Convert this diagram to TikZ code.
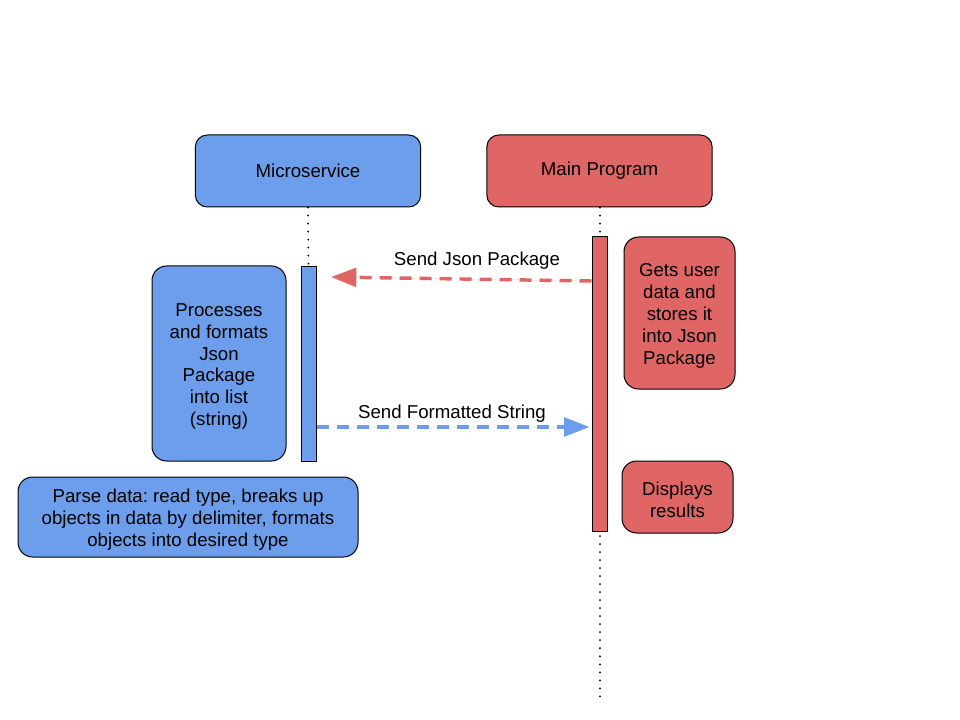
\documentclass[tikz,border=0pt]{standalone}
\usepackage{fontspec}
\setmainfont{Liberation Sans}
\usetikzlibrary{arrows.meta}
\definecolor{msblue}{HTML}{6D9EEB}
\definecolor{mpred}{HTML}{E06666}
\frenchspacing
\begin{document}
\begin{tikzpicture}[x=0.75pt,y=-0.75pt,
  every node/.style={font=\fontsize{14}{16.4}\selectfont, inner sep=0pt, align=center},
  every label/.style={align=center, yshift=-2.25pt},
  headbox/.style={draw=black, line width=0.75pt, rounded corners=9pt, minimum width=169pt, minimum height=54pt},
  barbox/.style={draw=black, line width=0.75pt, minimum width=11.25pt},
  notebox/.style={draw=black, line width=0.75pt, rounded corners=11pt},
  lifeline/.style={line width=1.5pt, dash pattern=on 0.01pt off 6pt, line cap=round},
  msg/.style={line width=2.6pt, dash pattern=on 9pt off 6pt, -{Triangle[length=19pt,width=14pt]}}
]
\useasboundingbox (0,0) rectangle (960,720);
\fill[white] (0,0) rectangle (960,720);

\node[headbox, fill=msblue] (ms) at (308,171) {\raisebox{-2pt}{Microservice}};
\node[headbox, fill=mpred] (mp) at (599.5,171) {\raisebox{-2pt}{Main Program}};

\coordinate (mpend) at (599.5,700);
\draw[lifeline] (ms.south) -- (308.5,267);
\draw[lifeline] (mp.south) -- (mpend);

\node[barbox, fill=msblue, minimum height=145.5pt] (bluebar) at (308.5,364) {};
\node[barbox, fill=mpred, minimum height=220.5pt] (redbar) at (599.5,384) {};

\node[notebox, fill=mpred, minimum width=83.25pt, minimum height=114pt,
  label={center:{Gets user\\data and\\stores it\\into Json\\Package}}] (gets) at (679.5,313) {};
\node[notebox, fill=mpred, minimum width=83.25pt, minimum height=54pt,
  label={center:{Displays\\results}}] (disp) at (677.5,497) {};
\node[notebox, fill=msblue, minimum width=100.5pt, minimum height=146.25pt,
  label={center:{Processes\\and formats\\Json\\Package\\into list\\(string)}}] (proc) at (219,363.5) {};
\node[notebox, fill=msblue, minimum width=255pt, minimum height=60pt,
  label={center:{Parse data: read type, breaks up\\objects in data by delimiter, formats\\objects into desired type}}] (parse) at (188,517) {};

\coordinate (jsonend) at (331,277);
\draw[msg, draw=mpred, fill=mpred] (redbar.west |- 0,281) -- (jsonend);
\node (l1) at (477,261) {Send Json Package};

\draw[msg, draw=msblue, fill=msblue, shorten >=1.5pt] (bluebar.east |- 0,427) -- (redbar.west |- 0,427);
\node (l2) at (452,414) {Send Formatted String};
\end{tikzpicture}
\end{document}
